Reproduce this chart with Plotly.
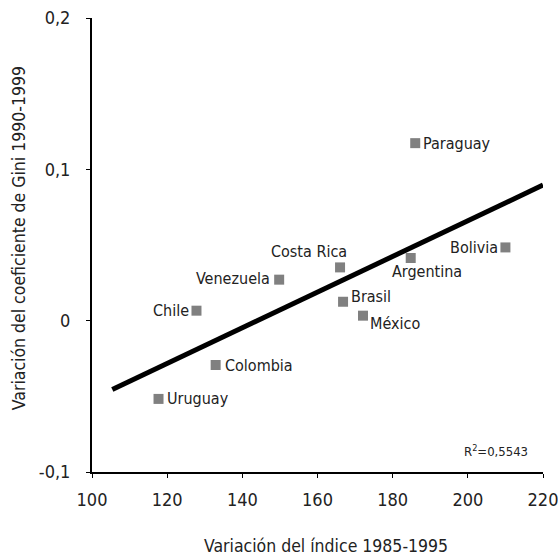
import plotly.graph_objects as go

# ---- data ----
countries = ["Paraguay", "Bolivia", "Argentina", "Costa Rica", "Venezuela",
             "Brasil", "México", "Chile", "Colombia", "Uruguay"]
indice_var = [186.0, 210.0, 184.8, 166.0, 149.8, 166.8, 172.1, 127.8, 132.9, 117.7]
gini_var = [0.1173, 0.0484, 0.0414, 0.0352, 0.0271, 0.0125, 0.0033, 0.0066, -0.0293, -0.0517]

trend_x = [105.4, 220.0]
trend_y = [-0.0455, 0.0896]

x_ticks = [100, 120, 140, 160, 180, 200, 220]
y_ticks = [-0.1, 0, 0.1, 0.2]
y_ticktext = ["-0,1", "0", "0,1", "0,2"]

r2_text = "R<sup>2</sup>=0,5543"
x_title = "Variación del índice 1985-1995"
y_title = "Variación del coeficiente de Gini 1990-1999"

# ---- label placement (style) ----
label_style = {
    "Paraguay":   dict(xanchor="left", xshift=5.5, yshift=0),
    "Bolivia":    dict(xanchor="right", xshift=-5.5, yshift=0),
    "Argentina":  dict(xanchor="center", xshift=16.5, yshift=-13.5),
    "Costa Rica": dict(xanchor="center", xshift=-31.5, yshift=15.5),
    "Venezuela":  dict(xanchor="right", xshift=-7, yshift=1),
    "Brasil":     dict(xanchor="left", xshift=5.5, yshift=5),
    "México":     dict(xanchor="left", xshift=5.5, yshift=-8),
    "Chile":      dict(xanchor="right", xshift=-5.5, yshift=0),
    "Colombia":   dict(xanchor="left", xshift=7, yshift=0),
    "Uruguay":    dict(xanchor="left", xshift=6, yshift=0),
}

FONT = "Liberation Sans Narrow, Arial Narrow, DejaVu Sans Condensed, Roboto, sans-serif"
TXT = "#222222"
LABEL_SIZE = 16
TITLE_SIZE = 17.5
TICK_SIZE = 18

fig = go.Figure()
fig.add_trace(go.Scatter(
    x=trend_x, y=trend_y, mode="lines",
    line=dict(color="black", width=5), hoverinfo="skip", showlegend=False))
fig.add_trace(go.Scatter(
    x=indice_var, y=gini_var, mode="markers",
    marker=dict(symbol="square", size=10, color="#808080"),
    text=countries, showlegend=False))

annotations = []
for name, xv, yv in zip(countries, indice_var, gini_var):
    st = label_style[name]
    annotations.append(dict(
        x=xv, y=yv, xref="x", yref="y", text=name, showarrow=False,
        xanchor=st["xanchor"], yanchor="middle",
        xshift=st["xshift"], yshift=st["yshift"],
        font=dict(family=FONT, size=LABEL_SIZE, color=TXT)))

annotations.append(dict(
    x=0.971, y=0.046, xref="paper", yref="paper", text=r2_text, showarrow=False,
    xanchor="right", yanchor="middle",
    font=dict(family=FONT, size=13, color=TXT)))

annotations.append(dict(
    x=0.519, y=-0.163, xref="paper", yref="paper", text=x_title, showarrow=False,
    xanchor="center", yanchor="middle",
    font=dict(family=FONT, size=TITLE_SIZE, color=TXT)))
annotations.append(dict(
    x=-0.162, y=0.515, xref="paper", yref="paper", text=y_title, showarrow=False,
    textangle=-90, xanchor="center", yanchor="middle",
    font=dict(family=FONT, size=TITLE_SIZE, color=TXT)))

fig.update_layout(
    width=558, height=556,
    margin=dict(l=92, r=15, t=18, b=84, autoexpand=False),
    paper_bgcolor="white", plot_bgcolor="white",
    separators=", ",
    font=dict(family=FONT, size=TICK_SIZE, color=TXT),
    annotations=annotations,
    xaxis=dict(
        range=[100, 220], tickvals=x_ticks, showgrid=False, zeroline=False,
        showline=True, linecolor="black", linewidth=2, automargin=False,
        ticks="outside", ticklen=4, tickwidth=1, tickcolor="black",
        ticklabelstandoff=6, ticklabeloverflow="allow",
        tickfont=dict(family=FONT, size=TICK_SIZE, color=TXT)),
    yaxis=dict(
        range=[-0.1, 0.2], tickvals=y_ticks, ticktext=y_ticktext,
        showgrid=False, zeroline=False, automargin=False,
        showline=True, linecolor="black", linewidth=2,
        ticks="outside", ticklen=4, tickwidth=1, tickcolor="black",
        ticklabelstandoff=12, ticklabeloverflow="allow",
        tickfont=dict(family=FONT, size=TICK_SIZE, color=TXT)),
)

fig.write_html("out.html",
               config={"displayModeBar": False},
               post_script="document.body.style.margin='0';document.body.style.overflow='hidden';")
